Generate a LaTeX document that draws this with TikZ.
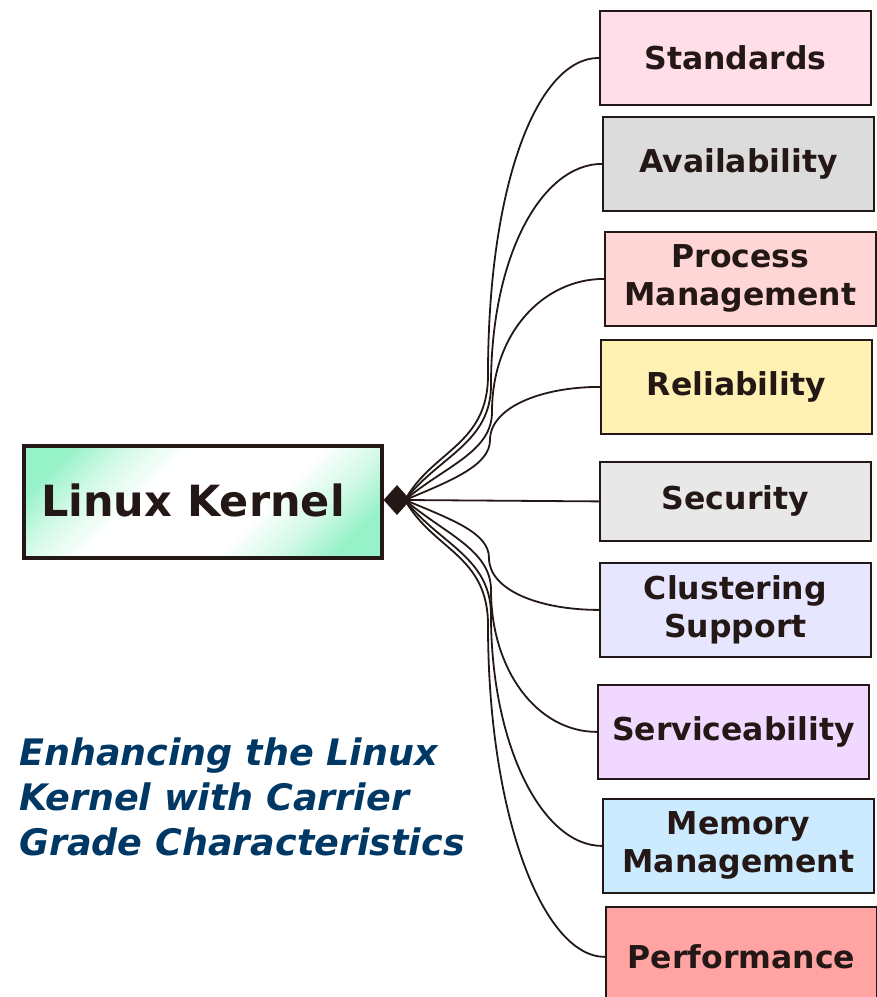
\documentclass[tikz,border=0pt]{standalone}
\usepackage{fontspec}
\setmainfont{DejaVu Sans}
\usetikzlibrary{shapes.geometric}
\definecolor{ink}{HTML}{231815}
\definecolor{titleblue}{HTML}{003865}
\definecolor{kgreen}{HTML}{96F2C8}
\definecolor{cStd}{HTML}{FFDDE9}
\definecolor{cAva}{HTML}{DCDCDC}
\definecolor{cPro}{HTML}{FFD6D6}
\definecolor{cRel}{HTML}{FFF0B3}
\definecolor{cSec}{HTML}{E8E8E8}
\definecolor{cClu}{HTML}{E6E6FF}
\definecolor{cSer}{HTML}{F0D8FF}
\definecolor{cMem}{HTML}{CCEBFF}
\definecolor{cPer}{HTML}{FFA3A3}
\pgfdeclarehorizontalshading{kgrad}{100bp}{color(0bp)=(kgreen); color(22bp)=(kgreen); color(30bp)=(kgreen!45!white); color(40bp)=(white); color(60bp)=(white); color(70bp)=(kgreen!45!white); color(78bp)=(kgreen); color(100bp)=(kgreen)}
\tikzset{
  featbox/.style={draw=ink, line width=1.8pt, minimum width=271pt, minimum height=94pt,
    anchor=north west, align=center, text=ink, font=\bfseries\fontsize{31.5}{38}\selectfont, inner sep=0pt},
  link/.style={draw=ink, line width=1.8pt},
}
\begin{document}
\begin{tikzpicture}[x=1pt,y=-1pt]
\useasboundingbox (0,0) rectangle (877,997);
\node[featbox, fill=cStd] (std) at (599,10) {Standards};
\node[featbox, fill=cAva] (ava) at (602,116) {Availability};
\node[featbox, fill=cPro] (pro) at (604,231) {Process\\Management};
\node[featbox, fill=cRel] (rel) at (600,339) {Reliability};
\node[featbox, fill=cSec, minimum height=79pt] (sec) at (599,461) {Security};
\node[featbox, fill=cClu] (clu) at (599,562) {Clustering\\Support};
\node[featbox, fill=cSer] (ser) at (597,684) {Serviceability};
\node[featbox, fill=cMem] (mem) at (602,798) {Memory\\Management};
\node[featbox, fill=cPer, minimum height=100pt] (per) at (605,906) {Performance};

\node[draw=ink, line width=4.5pt, shading=kgrad, shading angle=-45, minimum width=358pt, minimum height=112pt,
  anchor=north west] (lk) at (21.5,443.5) {};
\node[text=ink, font=\bfseries\fontsize{43}{50}\selectfont, inner sep=0pt] (lktext) at (193,500) {Linux Kernel};

\node[diamond, fill=ink, minimum width=27pt, minimum height=30pt, inner sep=0pt] (dia) at (397,500) {};
\coordinate (o) at (405,500);

% upper curves
\draw[link] (o) .. controls +(28,-50) and +(0,70) .. (488,375)
  .. controls +(0,-190) and +(-62,0) .. (std.west);
\draw[link] (o) .. controls +(34,-44) and +(0,58) .. (491,385)
  .. controls +(0,-130) and +(-60,0) .. (ava.west);
\draw[link] (o) .. controls +(40,-34) and +(0,40) .. (492,412)
  .. controls +(0,-80) and +(-60,0) .. (pro.west);
\draw[link] (o) .. controls +(48,-20) and +(0,25) .. (490,440)
  .. controls +(0,-32) and +(-60,0) .. (rel.west);
% straight
\draw[link] (o) -- (sec.west);
% lower curves
\draw[link] (o) .. controls +(48,20) and +(0,-25) .. (489,558)
  .. controls +(0,32) and +(-60,0) .. (clu.west);
\draw[link] (o) .. controls +(40,34) and +(0,-40) .. (491,590)
  .. controls +(0,80) and +(-60,0) .. (ser.west);
\draw[link] (o) .. controls +(34,44) and +(0,-58) .. (491,615)
  .. controls +(0,130) and +(-60,0) .. (mem.west);
\draw[link] (o) .. controls +(28,50) and +(0,-70) .. (488,625)
  .. controls +(0,190) and +(-62,0) .. (per.west);

\node[anchor=north west, align=left, text=titleblue, font=\bfseries\itshape\fontsize{36.5}{45}\selectfont, inner sep=0pt] (title) at (19,738)
  {Enhancing the Linux\\Kernel with Carrier\\Grade Characteristics};
\end{tikzpicture}
\end{document}
